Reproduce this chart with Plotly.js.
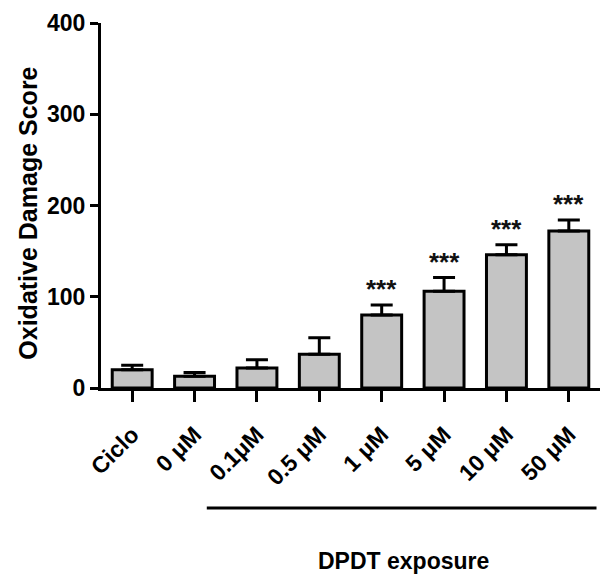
<!DOCTYPE html>
<html>
<head>
<meta charset="utf-8">
<script src="https://cdn.plot.ly/plotly-3.0.1.min.js"></script>
<style>html,body{margin:0;padding:0;background:#fff;}#chart{width:610px;height:581px;}</style>
</head>
<body>
<div id="chart"></div>
<script>
// Data
const categories = ["Ciclo", "0 μM", "0.1μM", "0.5 μM", "1 μM", "5 μM", "10 μM", "50 μM"];
const meanScore = [20, 13, 22, 37, 80, 106, 146, 172];
const errUpper  = [5, 4, 9, 18, 11, 15, 11, 12];
const errLower  = [0, 0, 0, 0, 0, 0, 0, 0];
const significance = ["", "", "", "", "***", "***", "***", "***"];
const yTicks = [0, 100, 200, 300, 400];

const FONT = "'Liberation Sans', Arial, Helvetica, sans-serif";

const bars = {
  type: "bar",
  x: categories,
  y: meanScore,
  width: 0.64,
  marker: {color: "#c4c4c4", line: {color: "#000", width: 3}},
  error_y: {type: "data", symmetric: false, array: errUpper, arrayminus: errLower,
            color: "#000", thickness: 3, width: 11},
  hoverinfo: "x+y"
};

const annotations = [];
categories.forEach((c, i) => {
  if (significance[i]) {
    annotations.push({
      x: c, y: meanScore[i] + errUpper[i], xref: "x", yref: "y",
      text: significance[i], showarrow: false, yanchor: "bottom", yshift: -1,
      font: {family: FONT, size: 26, color: "#111", weight: "bold"}
    });
  }
});
annotations.push({
  text: "<b>Oxidative Damage Score</b>", xref: "paper", yref: "paper",
  x: -0.148, y: 0.478, xanchor: "center", yanchor: "middle", textangle: -90,
  showarrow: false, font: {family: FONT, size: 25, color: "#000"}
});
annotations.push({
  text: "<b>DPDT exposure</b>", xref: "paper", yref: "paper",
  x: 0.607, y: -0.473, xanchor: "center", yanchor: "middle",
  showarrow: false, font: {family: FONT, size: 23, color: "#000"}
});

const layout = {
  width: 610, height: 581,
  margin: {l: 101, r: 10, t: 23, b: 193, pad: 0},
  paper_bgcolor: "#fff", plot_bgcolor: "#fff",
  showlegend: false,
  font: {family: FONT, color: "#000"},
  xaxis: {
    type: "category", range: [-0.5, 7.5], showline: true, linecolor: "#000", linewidth: 3,
    ticks: "outside", ticklen: 11, tickwidth: 3, tickcolor: "#000",
    tickangle: -45, ticklabelstandoff: 10,
    tickfont: {family: FONT, size: 23, color: "#000", weight: "bold"},
    showgrid: false, zeroline: false, fixedrange: true
  },
  yaxis: {
    range: [0, 400], tickvals: yTicks, ticktext: yTicks.map(String),
    showline: true, linecolor: "#000", linewidth: 3,
    ticks: "outside", ticklen: 8, tickwidth: 3, tickcolor: "#000",
    tickfont: {family: FONT, size: 23, color: "#000", weight: "bold"},
    showgrid: false, zeroline: false, fixedrange: true
  },
  shapes: [{
    type: "line", xref: "paper", yref: "paper",
    x0: 0.212, x1: 0.993, y0: -0.329, y1: -0.329,
    line: {color: "#000", width: 3}
  }],
  annotations: annotations
};

Plotly.newPlot("chart", [bars], layout, {displayModeBar: false, staticPlot: true});
</script>
</body>
</html>
